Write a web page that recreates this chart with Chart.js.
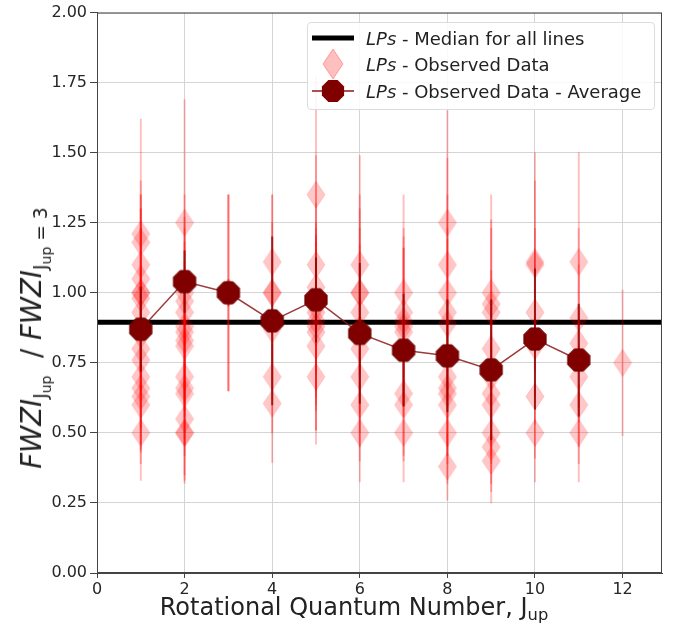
<!DOCTYPE html>
<html>
<head>
<meta charset="utf-8">
<script src="https://cdn.jsdelivr.net/npm/chart.js@4.4.1/dist/chart.umd.min.js"></script>
<style>
  body { margin: 0; background: #fff; }
  #wrap { position: relative; width: 685px; height: 625px; font-family: "DejaVu Sans", sans-serif; color: #222; }
  #chart { position: absolute; left: 0; top: 0; }
  #xTitle { position: absolute; left: 354px; top: 607px; transform: translate(-50%, -50%); font-size: 24px; white-space: nowrap; }
  #yTitle { position: absolute; left: 31px; top: 338px; transform: translate(-50%, -50%) rotate(-90deg); font-size: 27.5px; white-space: nowrap; }
  sub { font-size: 0.68em; vertical-align: -0.3em; line-height: 0; }
  sub sub { font-size: 0.75em; }
  #legend { position: absolute; left: 307px; top: 22px; width: 346px; height: 86px; border: 1px solid #dcdcdc; border-radius: 4px; background: rgba(255,255,255,0.85); }
  .row { position: absolute; left: 0; height: 26px; display: flex; align-items: center; font-size: 18px; white-space: nowrap; }
  .row svg { margin-left: 4px; margin-right: 12px; overflow: visible; }
</style>
</head>
<body>
<div id="wrap">
  <canvas id="chart" width="685" height="625"></canvas>
  <div id="yTitle"><i>FWZI</i><sub>J<sub>up</sub></sub>&nbsp; / <i>FWZI</i><sub>J<sub>up</sub> = 3</sub></div>
  <div id="xTitle">Rotational Quantum Number, J<sub>up</sub></div>
  <div id="legend">
    <div class="row" style="top:2px">
      <svg width="42" height="26"><line x1="0" y1="13" x2="42" y2="13" stroke="#000" stroke-width="5"/></svg>
      <span><i>LPs</i> - Median for all lines</span>
    </div>
    <div class="row" style="top:28px">
      <svg width="42" height="26"><polygon points="21,-2 31,13 21,28 11,13" fill="rgba(255,0,0,0.25)" stroke="rgba(255,0,0,0.3)"/></svg>
      <span><i>LPs</i> - Observed Data</span>
    </div>
    <div class="row" style="top:55px">
      <svg width="42" height="26"><line x1="0" y1="13" x2="42" y2="13" stroke="#8b1a1a" stroke-width="1.5"/>
        <polygon points="16.4,1.9 25.6,1.9 32.1,8.4 32.1,17.6 25.6,24.1 16.4,24.1 9.9,17.6 9.9,8.4" fill="#800000"/></svg>
      <span><i>LPs</i> - Observed Data - Average</span>
    </div>
  </div>
</div>
<script>
  // observed FWZI ratios, one row per J_up
  const obsJup = [
    1, 1, 1, 1, 1, 1, 1, 1, 1, 1, 1, 1, 1, 1, 1, 1,
    2, 2, 2, 2, 2, 2, 2, 2, 2, 2, 2, 2, 2, 2,
    3, 3, 3,
    4, 4, 4, 4, 4, 4,
    5, 5, 5, 5, 5, 5, 5, 5, 5, 5,
    6, 6, 6, 6, 6, 6, 6, 6, 6,
    7, 7, 7, 7, 7, 7, 7, 7,
    8, 8, 8, 8, 8, 8, 8, 8, 8, 8, 8,
    9, 9, 9, 9, 9, 9, 9, 9, 9, 9,
    10, 10, 10, 10, 10, 10,
    11, 11, 11, 11, 11, 11,
    12
  ];
  const obsRatio = [
    1.21, 1.18, 1.10, 1.05, 1.00, 1.00, 0.98, 0.93, 0.85, 0.80, 0.76, 0.70, 0.66, 0.63, 0.60, 0.50,
    1.25, 1.00, 0.97, 0.93, 0.88, 0.86, 0.83, 0.81, 0.70, 0.66, 0.64, 0.55, 0.50, 0.50,
    1.00, 1.00, 1.00,
    1.11, 1.00, 1.00, 0.87, 0.70, 0.605,
    1.35, 1.10, 1.02, 0.95, 0.93, 0.90, 0.88, 0.86, 0.81, 0.70,
    1.10, 1.00, 1.00, 0.93, 0.87, 0.80, 0.70, 0.60, 0.50,
    1.00, 0.93, 0.90, 0.88, 0.86, 0.64, 0.60, 0.50,
    1.25, 1.10, 1.00, 0.93, 0.89, 0.70, 0.66, 0.64, 0.60, 0.50, 0.38,
    1.00, 0.96, 0.93, 0.80, 0.70, 0.64, 0.60, 0.50, 0.45, 0.40,
    1.11, 1.10, 0.93, 0.81, 0.63, 0.50,
    1.11, 0.91, 0.82, 0.70, 0.60, 0.50,
    0.75
  ];
  const obsErr = [
    0.41, 0.17, 0.30, 0.25, 0.35, 0.30, 0.25, 0.30, 0.20, 0.28, 0.25, 0.24, 0.22, 0.20, 0.21, 0.17,
    0.44, 0.35, 0.30, 0.30, 0.30, 0.25, 0.25, 0.25, 0.22, 0.20, 0.22, 0.20, 0.18, 0.17,
    0.35, 0.35, 0.35,
    0.24, 0.35, 0.25, 0.25, 0.20, 0.21,
    0.42, 0.39, 0.30, 0.30, 0.30, 0.30, 0.30, 0.35, 0.30, 0.24,
    0.39, 0.35, 0.30, 0.30, 0.30, 0.30, 0.25, 0.20, 0.175,
    0.35, 0.30, 0.30, 0.28, 0.30, 0.22, 0.20, 0.175,
    0.40, 0.38, 0.35, 0.30, 0.30, 0.25, 0.24, 0.22, 0.21, 0.18, 0.12,
    0.35, 0.30, 0.30, 0.28, 0.25, 0.22, 0.21, 0.18, 0.16, 0.15,
    0.39, 0.30, 0.30, 0.28, 0.22, 0.175,
    0.39, 0.32, 0.28, 0.25, 0.21, 0.175,
    0.26
  ];

  // averages per J_up
  const avgJup = [1, 2, 3, 4, 5, 6, 7, 8, 9, 10, 11];
  const avgRatio = [0.87, 1.04, 1.00, 0.90, 0.975, 0.855, 0.795, 0.775, 0.725, 0.835, 0.76];
  const avgErr = [0.15, 0.11, 0.0, 0.30, 0.15, 0.25, 0.20, 0.20, 0.25, 0.25, 0.20];

  const medianRatio = 0.895;
  const xRange = [0, 12.9];
  const yRange = [0, 2];
  const xTicks = [0, 2, 4, 6, 8, 10, 12];
  const yTicks = [0, 0.25, 0.5, 0.75, 1.0, 1.25, 1.5, 1.75, 2.0];

  function makeDiamond() {
    const c = document.createElement("canvas");
    c.width = 20;
    c.height = 29;
    const ctx = c.getContext("2d");
    ctx.beginPath();
    ctx.moveTo(10, 1);
    ctx.lineTo(19, 14.5);
    ctx.lineTo(10, 28);
    ctx.lineTo(1, 14.5);
    ctx.closePath();
    ctx.fillStyle = "rgba(255,0,0,0.22)";
    ctx.fill();
    ctx.strokeStyle = "rgba(255,0,0,0.15)";
    ctx.lineWidth = 1;
    ctx.stroke();
    return c;
  }

  function makeOctagon() {
    const c = document.createElement("canvas");
    c.width = 26;
    c.height = 26;
    const ctx = c.getContext("2d");
    ctx.beginPath();
    for (let k = 0; k < 8; k++) {
      const a = (22.5 + k * 45) * Math.PI / 180;
      const px = 13 + 12 * Math.cos(a);
      const py = 13 + 12 * Math.sin(a);
      if (k === 0) ctx.moveTo(px, py);
      else ctx.lineTo(px, py);
    }
    ctx.closePath();
    ctx.fillStyle = "#800000";
    ctx.fill();
    ctx.strokeStyle = "#6a0000";
    ctx.lineWidth = 1;
    ctx.stroke();
    return c;
  }

  const framePlugin = {
    id: "frame",
    afterDatasetsDraw(chart) {
      const a = chart.chartArea;
      const ctx = chart.ctx;
      ctx.save();
      ctx.strokeStyle = "#444";
      ctx.lineWidth = 1;
      ctx.strokeRect(a.left + 0.5, a.top + 0.5, a.right - a.left - 1, a.bottom - a.top - 1);
      ctx.restore();
    },
  };

  new Chart(document.getElementById("chart").getContext("2d"), {
    type: "scatter",
    data: {
      datasets: [
        {
          type: "line",
          label: "LPs - Median for all lines",
          data: xRange.map((x) => ({ x: x, y: medianRatio })),
          borderColor: "#000",
          borderWidth: 5,
          pointRadius: 0,
          order: 5,
        },
        {
          type: "bar",
          label: "obs err",
          data: obsJup.map((j, i) => ({ x: j, y: [obsRatio[i] - obsErr[i], obsRatio[i] + obsErr[i]] })),
          backgroundColor: "rgba(255,0,0,0.25)",
          borderWidth: 0,
          barThickness: 1.3,
          grouped: false,
          order: 4,
        },
        {
          type: "scatter",
          label: "LPs - Observed Data",
          data: obsJup.map((j, i) => ({ x: j, y: obsRatio[i] })),
          pointStyle: makeDiamond(),
          order: 3,
        },
        {
          type: "bar",
          label: "avg err",
          data: avgJup.map((j, i) => ({ x: j, y: [avgRatio[i] - avgErr[i], avgRatio[i] + avgErr[i]] })),
          backgroundColor: "rgba(128,0,0,0.7)",
          borderWidth: 0,
          barThickness: 1.4,
          grouped: false,
          order: 2,
        },
        {
          type: "line",
          label: "LPs - Observed Data - Average",
          data: avgJup.map((j, i) => ({ x: j, y: avgRatio[i] })),
          borderColor: "rgba(139,26,26,0.85)",
          borderWidth: 1.5,
          pointStyle: makeOctagon(),
          tension: 0,
          order: 1,
        },
      ],
    },
    options: {
      responsive: false,
      animation: false,
      devicePixelRatio: 1,
      layout: { padding: { left: 0, right: 23, top: 12, bottom: 0 } },
      plugins: { legend: { display: false }, tooltip: { enabled: false } },
      scales: {
        x: {
          type: "linear",
          min: xRange[0],
          max: xRange[1],
          offset: false,
          afterFit: (s) => { s.height = 52; },
          afterBuildTicks: (s) => { s.ticks = xTicks.map((v) => ({ value: v })); },
          grid: { color: "#d4d4d4", offset: false, tickLength: 5, tickColor: "#444" },
          border: { color: "#444" },
          ticks: { color: "#262626", font: { family: "DejaVu Sans", size: 16 }, padding: 2, maxRotation: 0 },
        },
        y: {
          type: "linear",
          min: yRange[0],
          max: yRange[1],
          afterFit: (s) => { s.width = 97; },
          afterBuildTicks: (s) => { s.ticks = yTicks.map((v) => ({ value: v })); },
          grid: { color: "#d4d4d4", tickLength: 7, tickColor: "#444" },
          border: { color: "#444" },
          ticks: {
            color: "#262626",
            font: { family: "DejaVu Sans", size: 16 },
            padding: 3,
            callback: (v) => Number(v).toFixed(2),
          },
        },
      },
    },
    plugins: [framePlugin],
  });
</script>
</body>
</html>
